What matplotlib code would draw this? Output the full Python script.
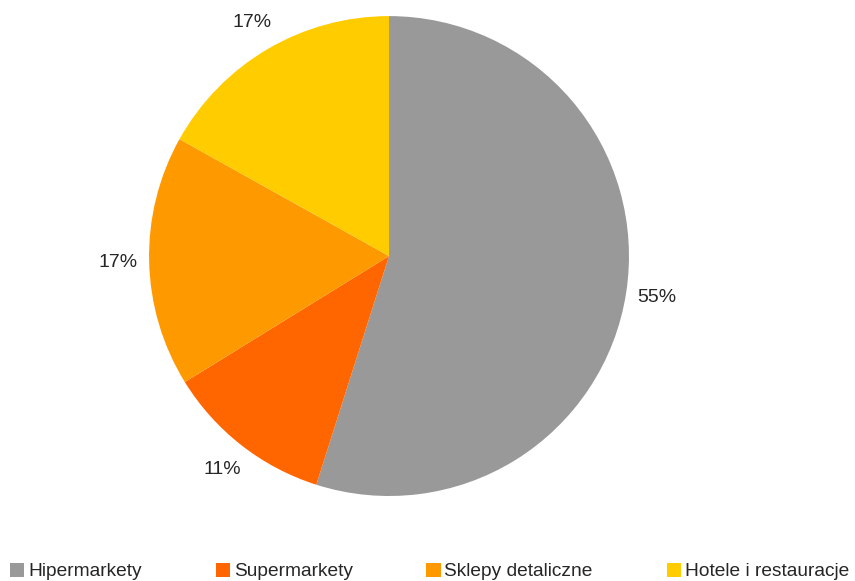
import matplotlib.pyplot as plt

# sales channel shares
channels = ['Hipermarkety', 'Supermarkety', 'Sklepy detaliczne', 'Hotele i restauracje']
shares = [54.9, 11.3, 16.9, 16.9]
colors = ['#999999', '#FF6600', '#FF9900', '#FFCC00']

plt.rcParams['font.family'] = ['Liberation Sans', 'DejaVu Sans']

fig = plt.figure(figsize=(8.55, 5.81), dpi=100)
ax = fig.add_axes([0.1743, 0.1463, 0.5614, 0.826])

wedges, texts, autotexts = ax.pie(shares, colors=colors, startangle=90, counterclock=False,
                                  autopct='%.0f%%', pctdistance=1.13,
                                  textprops={'fontsize': 14, 'color': '#262626'})
ax.set_xlim(-1, 1)
ax.set_ylim(-1, 1)
ax.set_aspect('equal')
ax.axis('off')

fig.legend(wedges, channels, loc='lower left', bbox_to_anchor=(0.003, -0.012), ncol=4,
           frameon=False, fontsize=13.8, handlelength=0.74, handleheight=0.74,
           handletextpad=0.2, columnspacing=3.85, borderaxespad=0.0,
           labelcolor='#262626')

fig.savefig('out.png', dpi=100)
